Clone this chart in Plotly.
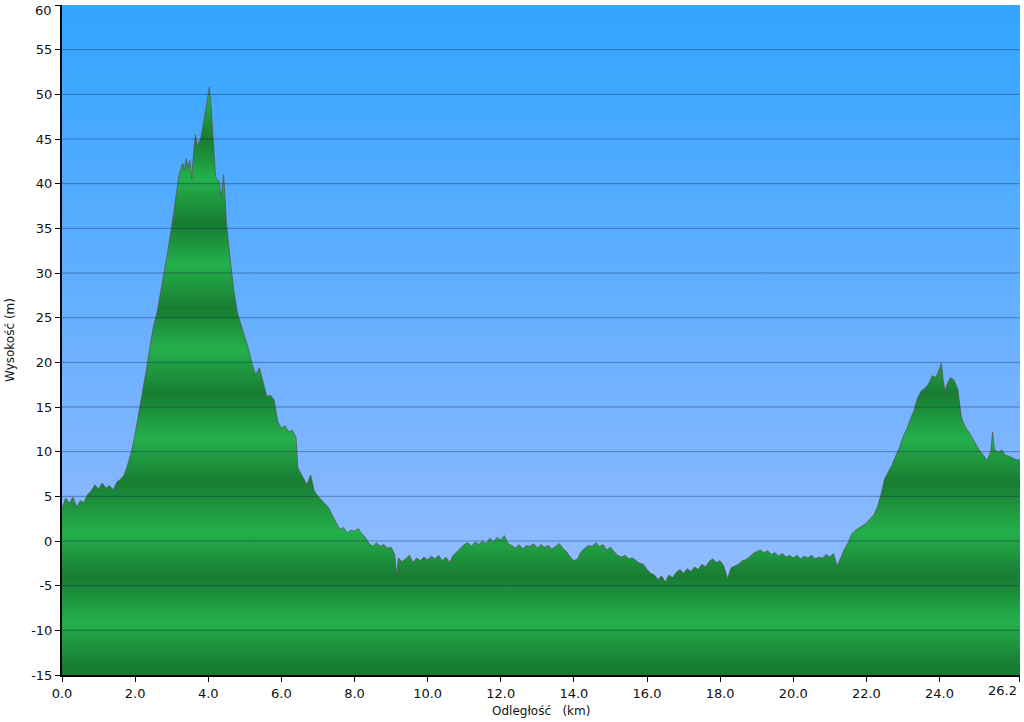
import plotly.graph_objects as go

# ---- data ----
km = [0.0, 0.1, 0.2, 0.3, 0.4, 0.5, 0.6, 0.7, 0.8, 0.9, 1.0, 1.1, 1.2, 1.3, 1.4, 1.5, 1.6, 1.7, 1.8, 1.9,
      2.0, 2.1, 2.2, 2.3, 2.4, 2.5, 2.6, 2.7, 2.8, 2.9, 3.0, 3.1, 3.2, 3.3, 3.35, 3.4, 3.45, 3.5, 3.55, 3.6,
      3.65, 3.7, 3.8, 3.9, 4.0, 4.03, 4.08, 4.15, 4.2, 4.3, 4.35, 4.42, 4.5, 4.6, 4.7, 4.8, 4.9, 5.0, 5.1, 5.2,
      5.3, 5.4, 5.5, 5.6, 5.7, 5.8, 5.9, 6.0, 6.1, 6.2, 6.3, 6.4, 6.45, 6.5, 6.6, 6.7, 6.8, 6.9, 7.0, 7.1,
      7.2, 7.3, 7.4, 7.5, 7.6, 7.7, 7.8, 7.9, 8.0, 8.1, 8.2, 8.3, 8.4, 8.5, 8.6, 8.7, 8.8, 8.9, 9.0, 9.1,
      9.15, 9.2, 9.3, 9.4, 9.5, 9.6, 9.7, 9.8, 9.9, 10.0, 10.1, 10.2, 10.3, 10.4, 10.5, 10.6, 10.7, 10.8, 10.9, 11.0,
      11.1, 11.2, 11.3, 11.4, 11.5, 11.6, 11.7, 11.8, 11.9, 12.0, 12.1, 12.2, 12.3, 12.4, 12.5, 12.6, 12.7, 12.8, 12.9, 13.0,
      13.1, 13.2, 13.3, 13.4, 13.5, 13.6, 13.7, 13.8, 13.9, 14.0, 14.1, 14.2, 14.3, 14.4, 14.5, 14.6, 14.7, 14.8, 14.9, 15.0,
      15.1, 15.2, 15.3, 15.4, 15.5, 15.6, 15.7, 15.8, 15.9, 16.0, 16.1, 16.2, 16.3, 16.4, 16.5, 16.6, 16.7, 16.8, 16.9, 17.0,
      17.1, 17.2, 17.3, 17.4, 17.5, 17.6, 17.7, 17.8, 17.9, 18.0, 18.1, 18.2, 18.3, 18.4, 18.5, 18.6, 18.7, 18.8, 18.9, 19.0,
      19.1, 19.2, 19.3, 19.4, 19.5, 19.6, 19.7, 19.8, 19.9, 20.0, 20.1, 20.2, 20.3, 20.4, 20.5, 20.6, 20.7, 20.8, 20.9, 21.0,
      21.1, 21.2, 21.3, 21.4, 21.5, 21.6, 21.7, 21.8, 21.9, 22.0, 22.1, 22.2, 22.3, 22.4, 22.5, 22.6, 22.7, 22.8, 22.9, 23.0,
      23.1, 23.2, 23.3, 23.4, 23.5, 23.6, 23.7, 23.8, 23.9, 24.0, 24.05, 24.1, 24.15, 24.2, 24.3, 24.4, 24.5, 24.6, 24.7, 24.8,
      24.9, 25.0, 25.1, 25.2, 25.3, 25.4, 25.45, 25.5, 25.6, 25.7, 25.8, 25.9, 26.0, 26.1, 26.2]
elev = [3.6, 4.8, 4.2, 4.9, 3.8, 4.5, 4.3, 5.2, 5.6, 6.3, 5.8, 6.5, 5.9, 6.2, 5.7, 6.6, 6.9, 7.4, 8.6, 10.0,
        12.0, 14.2, 16.5, 19.0, 21.6, 24.0, 25.6, 27.8, 30.2, 32.6, 35.2, 38.0, 41.0, 42.3, 41.6, 42.8, 41.8, 42.6, 40.5, 43.5,
        45.5, 44.2, 45.2, 47.5, 49.8, 50.8, 48.5, 44.0, 40.8, 40.2, 38.5, 41.0, 35.5, 31.5, 28.0, 25.5, 24.2, 22.8, 21.5, 19.8,
        18.6, 19.4, 17.8, 16.2, 16.3, 15.8, 13.4, 12.6, 12.9, 12.2, 12.4, 11.6, 8.2, 7.8, 7.0, 6.3, 7.4, 5.6, 5.0, 4.6,
        4.2, 3.7, 2.8, 2.0, 1.3, 1.5, 0.9, 1.2, 1.1, 1.4, 0.8, 0.4, -0.3, -0.6, -0.2, -0.6, -0.4, -0.8, -0.7, -1.5,
        -3.8, -1.9, -2.3, -2.0, -1.6, -2.4, -1.9, -2.2, -1.8, -2.1, -1.7, -2.0, -1.6, -2.2, -1.8, -2.4, -1.6, -1.2, -0.8, -0.4,
        -0.2, -0.6, -0.1, -0.4, 0.0, -0.3, 0.3, -0.1, 0.4, 0.1, 0.6, -0.3, -0.5, -0.8, -0.4, -0.9, -0.5, -0.6, -0.3, -0.8,
        -0.4, -0.7, -0.5, -0.9, -0.6, -0.3, -0.8, -1.2, -1.8, -2.2, -2.0, -1.2, -0.8, -0.5, -0.6, -0.2, -0.6, -0.4, -1.0, -0.7,
        -1.2, -1.6, -1.8, -1.6, -2.0, -1.9, -2.2, -2.5, -2.6, -3.2, -3.6, -3.8, -4.3, -3.9, -4.6, -3.8, -4.1, -3.5, -3.2, -3.6,
        -3.1, -3.4, -2.9, -3.2, -2.6, -2.9, -2.3, -2.0, -2.4, -2.2, -2.8, -4.2, -3.0, -2.8, -2.6, -2.2, -2.1, -1.8, -1.4, -1.2,
        -1.0, -1.3, -1.1, -1.5, -1.3, -1.7, -1.4, -1.8, -1.6, -1.9, -1.6, -2.0, -1.7, -1.9, -1.6, -2.0, -1.8, -1.9, -1.5, -1.8,
        -1.4, -2.8, -1.8, -0.9, -0.2, 0.8, 1.2, 1.5, 1.8, 2.0, 2.5, 2.9, 3.8, 5.2, 7.0, 7.8, 8.5, 9.5, 10.4, 11.6,
        12.5, 13.6, 14.6, 16.0, 16.8, 17.1, 17.6, 18.5, 18.3, 19.3, 19.9, 18.0, 16.8, 17.5, 18.3, 18.0, 17.0, 13.8, 12.8, 12.2,
        11.5, 10.9, 10.1, 9.6, 9.0, 10.0, 12.2, 10.3, 9.9, 10.2, 9.6, 9.5, 9.3, 9.1, 9.1]

x_min, x_max = 0.0, 26.2
y_min, y_max = -15, 60
x_tickvals = [0, 2, 4, 6, 8, 10, 12, 14, 16, 18, 20, 22, 24, 26.2]
x_ticktext = ["0.0", "2.0", "4.0", "6.0", "8.0", "10.0", "12.0", "14.0", "16.0", "18.0", "20.0", "22.0", "24.0", "26.2"]
y_tickvals = list(range(-15, 61, 5))
y_ticktext = [str(v) for v in y_tickvals]
x_title = "Odległość &nbsp; (km)"
y_title = "Wysokość (m)"

# ---- styles ----
light = "rgb(36,176,76)"
dark = "rgb(24,124,50)"
dark_centers = [-14, -4, 6.5, 16.5, 26, 35.5, 45]
stops = [(y_min, dark)]
for c in dark_centers:
    if c > y_min:
        stops.append((c, dark))
    stops.append((c + 5, light))
stops.append((y_max, dark))
stops = sorted(stops, key=lambda s: s[0])
green_scale = [[(v - y_min) / (y_max - y_min), col] for v, col in stops]

fig = go.Figure()

# sky background
fig.add_trace(go.Scatter(
    x=[x_min, x_max, x_max, x_min, x_min], y=[y_min, y_min, y_max, y_max, y_min],
    mode="lines", line=dict(width=0), fill="toself",
    fillgradient=dict(type="vertical", start=y_min, stop=y_max,
                      colorscale=[[0, "rgb(158,194,255)"], [0.35, "rgb(124,180,255)"], [1, "rgb(50,165,255)"]]),
    hoverinfo="skip", showlegend=False))

# baseline
fig.add_trace(go.Scatter(x=km, y=[y_min] * len(km), mode="lines", line=dict(width=0),
                         hoverinfo="skip", showlegend=False))

# terrain
fig.add_trace(go.Scatter(
    x=km, y=elev, mode="lines", line=dict(color="rgba(85,85,85,0.75)", width=1),
    fill="tonexty",
    fillgradient=dict(type="vertical", start=y_min, stop=y_max, colorscale=green_scale),
    showlegend=False))

shapes = []
for v in y_tickvals[1:-1]:
    shapes.append(dict(type="line", xref="paper", x0=0, x1=1, yref="y", y0=v, y1=v,
                       line=dict(color="rgba(10,30,70,0.38)", width=1), layer="above"))

# end tick labels are drawn as annotations nudged inward so they stay on the page
x_ticktext_axis = x_ticktext[:-1] + [""]
y_ticktext_axis = y_ticktext[:-1] + [""]

font_family = "DejaVu Sans, Verdana, sans-serif"
fig.update_layout(
    width=1024, height=722,
    margin=dict(l=62, r=4, t=5, b=47, autoexpand=False),
    paper_bgcolor="white", plot_bgcolor="white",
    shapes=shapes,
    font=dict(family=font_family, size=13, color="#111"),
    xaxis=dict(range=[x_min, x_max + 0.001], tickvals=x_tickvals, ticktext=x_ticktext_axis, automargin=False,
               ticklabeloverflow="allow",
               showgrid=False, zeroline=False, showline=True, linecolor="black", linewidth=2,
               ticks="outside", ticklen=5, tickcolor="black", tickwidth=1),
    yaxis=dict(range=[y_min, y_max + 0.002], tickvals=y_tickvals, ticktext=y_ticktext_axis, automargin=False,
               ticklabeloverflow="allow",
               showgrid=False, zeroline=False, showline=True, linecolor="black", linewidth=2,
               ticks="outside", ticklen=5, tickcolor="black", tickwidth=1),
    annotations=[
        dict(text=x_ticktext[-1], xref="x", yref="paper", x=x_tickvals[-1], y=0, yshift=-6, xshift=-1,
             xanchor="right", yanchor="top", showarrow=False, font=dict(size=13)),
        dict(text=y_ticktext[-1], xref="paper", yref="y", x=0, y=y_tickvals[-1], xshift=-8, yshift=4,
             xanchor="right", yanchor="top", showarrow=False, font=dict(size=13)),
        dict(text=x_title, xref="paper", yref="paper", x=0.5, y=0, yshift=-36,
             xanchor="center", yanchor="middle", showarrow=False, font=dict(size=12)),
        dict(text=y_title, xref="paper", yref="paper", x=0, y=0.5, xshift=-52,
             xanchor="center", yanchor="middle", textangle=-90, showarrow=False, font=dict(size=12)),
    ],
)

fig.write_html("out.html", config={"displayModeBar": False},
               post_script="document.body.style.margin='0';document.body.style.overflow='hidden';")
